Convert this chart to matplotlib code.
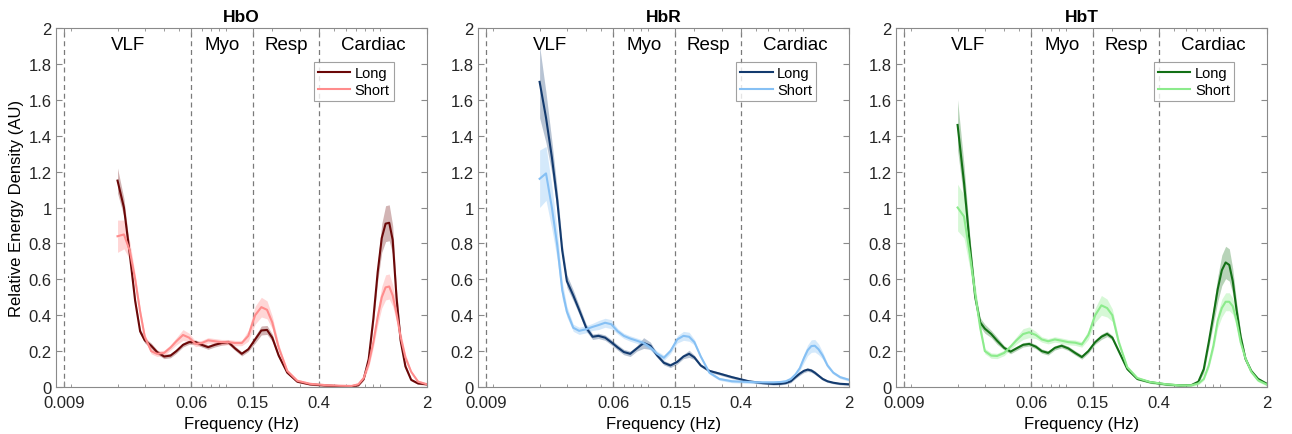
import numpy as np
import matplotlib.pyplot as plt
from matplotlib.ticker import FixedLocator, LogLocator, NullFormatter

plt.rcParams['font.family'] = ['Liberation Sans', 'DejaVu Sans']

# frequency grid (Hz) the curves were read at
freq = [0.020, 0.022, 0.024, 0.026, 0.028, 0.030, 0.033, 0.036, 0.040, 0.044,
        0.048, 0.053, 0.058, 0.064, 0.070, 0.077, 0.085, 0.094, 0.104, 0.115,
        0.127, 0.14, 0.155, 0.17, 0.185, 0.20, 0.22, 0.25, 0.29, 0.35,
        0.45, 0.55, 0.65, 0.72, 0.78, 0.84, 0.90, 0.96, 1.02, 1.08,
        1.14, 1.20, 1.27, 1.35, 1.45, 1.58, 1.75, 2.0]

# HbO
hbo_long = [1.15, 1.00, 0.74, 0.48, 0.31, 0.26, 0.23, 0.195, 0.17, 0.175,
            0.20, 0.235, 0.25, 0.25, 0.235, 0.222, 0.235, 0.245, 0.25, 0.215,
            0.185, 0.21, 0.265, 0.315, 0.318, 0.275, 0.175, 0.08, 0.03, 0.015,
            0.008, 0.005, 0.004, 0.01, 0.045, 0.156, 0.38, 0.64, 0.83, 0.91,
            0.915, 0.82, 0.50, 0.26, 0.115, 0.04, 0.02, 0.015]
hbo_long_err = [0.07, 0.05, 0.03, 0.02, 0.015, 0.015, 0.015, 0.012, 0.012, 0.012,
                0.012, 0.012, 0.012, 0.012, 0.012, 0.012, 0.012, 0.012, 0.012, 0.012,
                0.012, 0.012, 0.02, 0.025, 0.025, 0.02, 0.012, 0.006, 0.005, 0.005,
                0.005, 0.005, 0.005, 0.005, 0.008, 0.015, 0.03, 0.05, 0.08, 0.10,
                0.10, 0.08, 0.05, 0.03, 0.015, 0.006, 0.005, 0.005]
hbo_short = [0.84, 0.85, 0.76, 0.60, 0.42, 0.28, 0.20, 0.185, 0.19, 0.22,
             0.255, 0.29, 0.275, 0.24, 0.245, 0.26, 0.255, 0.25, 0.25, 0.245,
             0.245, 0.285, 0.40, 0.445, 0.43, 0.36, 0.22, 0.09, 0.035, 0.018,
             0.01, 0.007, 0.006, 0.015, 0.05, 0.13, 0.25, 0.39, 0.50, 0.555,
             0.56, 0.51, 0.41, 0.28, 0.165, 0.085, 0.03, 0.015]
hbo_short_err = [0.09, 0.08, 0.05, 0.03, 0.02, 0.015, 0.015, 0.015, 0.015, 0.015,
                 0.02, 0.03, 0.025, 0.015, 0.015, 0.015, 0.015, 0.015, 0.015, 0.015,
                 0.015, 0.03, 0.05, 0.055, 0.05, 0.035, 0.02, 0.008, 0.008, 0.008,
                 0.008, 0.008, 0.008, 0.008, 0.01, 0.02, 0.03, 0.045, 0.06, 0.07,
                 0.07, 0.06, 0.045, 0.03, 0.02, 0.008, 0.008, 0.008]

# HbR
hbr_long = [1.70, 1.50, 1.28, 1.04, 0.76, 0.59, 0.51, 0.43, 0.33, 0.28,
            0.285, 0.275, 0.25, 0.22, 0.195, 0.185, 0.215, 0.245, 0.23, 0.176,
            0.135, 0.12, 0.14, 0.17, 0.185, 0.165, 0.12, 0.09, 0.075, 0.055,
            0.032, 0.022, 0.017, 0.018, 0.022, 0.032, 0.055, 0.075, 0.09, 0.097,
            0.092, 0.08, 0.063, 0.045, 0.032, 0.024, 0.018, 0.015]
hbr_long_err = [0.20, 0.14, 0.09, 0.06, 0.04, 0.035, 0.03, 0.025, 0.02, 0.015,
                0.015, 0.015, 0.015, 0.015, 0.015, 0.015, 0.015, 0.03, 0.02, 0.012,
                0.012, 0.012, 0.012, 0.012, 0.02, 0.012, 0.008, 0.008, 0.008, 0.008,
                0.006, 0.006, 0.006, 0.006, 0.006, 0.008, 0.008, 0.01, 0.01, 0.01,
                0.01, 0.01, 0.008, 0.008, 0.006, 0.006, 0.006, 0.006]
hbr_short = [1.16, 1.19, 1.00, 0.79, 0.54, 0.42, 0.33, 0.313, 0.322, 0.335,
             0.345, 0.358, 0.35, 0.31, 0.285, 0.27, 0.258, 0.245, 0.22, 0.185,
             0.163, 0.20, 0.265, 0.285, 0.28, 0.25, 0.17, 0.08, 0.045, 0.032,
             0.028, 0.026, 0.026, 0.028, 0.032, 0.045, 0.07, 0.105, 0.16, 0.205,
             0.228, 0.23, 0.21, 0.175, 0.12, 0.08, 0.055, 0.04]
hbr_short_err = [0.16, 0.15, 0.12, 0.08, 0.05, 0.03, 0.02, 0.02, 0.02, 0.02,
                 0.025, 0.025, 0.025, 0.015, 0.015, 0.015, 0.015, 0.015, 0.015, 0.015,
                 0.015, 0.015, 0.02, 0.025, 0.025, 0.015, 0.008, 0.008, 0.008, 0.008,
                 0.008, 0.008, 0.008, 0.008, 0.008, 0.008, 0.008, 0.015, 0.025, 0.03,
                 0.035, 0.035, 0.03, 0.02, 0.012, 0.008, 0.008, 0.008]

# HbT
hbt_long = [1.46, 1.14, 0.79, 0.50, 0.36, 0.325, 0.295, 0.258, 0.218, 0.197,
            0.215, 0.235, 0.24, 0.225, 0.20, 0.19, 0.218, 0.23, 0.215, 0.19,
            0.167, 0.20, 0.25, 0.28, 0.296, 0.275, 0.20, 0.10, 0.045, 0.027,
            0.014, 0.009, 0.011, 0.03, 0.10, 0.25, 0.40, 0.546, 0.65, 0.694,
            0.68, 0.59, 0.43, 0.28, 0.157, 0.09, 0.045, 0.017]
hbt_long_err = [0.14, 0.10, 0.05, 0.03, 0.025, 0.025, 0.02, 0.02, 0.012, 0.012,
                0.012, 0.012, 0.012, 0.012, 0.012, 0.012, 0.012, 0.012, 0.012, 0.012,
                0.012, 0.012, 0.012, 0.015, 0.015, 0.012, 0.01, 0.008, 0.006, 0.006,
                0.005, 0.005, 0.005, 0.008, 0.02, 0.03, 0.05, 0.07, 0.085, 0.09,
                0.09, 0.07, 0.045, 0.025, 0.015, 0.008, 0.008, 0.008]
hbt_short = [1.00, 0.95, 0.74, 0.52, 0.33, 0.20, 0.175, 0.173, 0.19, 0.225,
             0.26, 0.295, 0.305, 0.29, 0.265, 0.255, 0.265, 0.258, 0.25, 0.247,
             0.237, 0.29, 0.40, 0.455, 0.44, 0.40, 0.25, 0.11, 0.05, 0.028,
             0.015, 0.009, 0.01, 0.02, 0.045, 0.12, 0.23, 0.37, 0.44, 0.475,
             0.475, 0.45, 0.37, 0.25, 0.16, 0.085, 0.037, 0.013]
hbt_short_err = [0.13, 0.12, 0.08, 0.05, 0.03, 0.015, 0.015, 0.015, 0.015, 0.015,
                 0.02, 0.03, 0.03, 0.02, 0.015, 0.015, 0.015, 0.015, 0.015, 0.015,
                 0.015, 0.025, 0.04, 0.055, 0.05, 0.035, 0.02, 0.008, 0.008, 0.008,
                 0.008, 0.008, 0.008, 0.008, 0.008, 0.015, 0.025, 0.04, 0.05, 0.05,
                 0.05, 0.045, 0.035, 0.02, 0.012, 0.008, 0.008, 0.008]

titles = ["HbO", "HbR", "HbT"]
long_colors = ["#6b0808", "#133a6e", "#137016"]
short_colors = ["#ff8c8c", "#86c0f4", "#8ceb8c"]

band_names = ["VLF", "Myo", "Resp", "Cardiac"]
band_lo = [0.009, 0.06, 0.15, 0.4]
band_hi = [0.06, 0.15, 0.4, 2]

xticks = [0.009, 0.06, 0.15, 0.4, 2]
xticklabels = ["0.009", "0.06", "0.15", "0.4", "2"]
yticks = [0, 0.2, 0.4, 0.6, 0.8, 1, 1.2, 1.4, 1.6, 1.8, 2]
yticklabels = ["0", "0.2", "0.4", "0.6", "0.8", "1", "1.2", "1.4", "1.6", "1.8", "2"]

series = [
    (hbo_long, hbo_long_err, hbo_short, hbo_short_err),
    (hbr_long, hbr_long_err, hbr_short, hbr_short_err),
    (hbt_long, hbt_long_err, hbt_short, hbt_short_err),
]

fig = plt.figure(figsize=(12.92, 4.35), dpi=100)
lefts = [0.0433, 0.370, 0.6935]
grey = "#8a8a8a"
f = np.array(freq)

for i, left in enumerate(lefts):
    ax = fig.add_axes([left, 0.108, 0.2872, 0.8253])
    lm, le, sm, se = [np.array(s) for s in series[i]]

    ax.fill_between(f, lm - le, lm + le, color=long_colors[i], alpha=0.3, lw=0)
    ax.fill_between(f, sm - se, sm + se, color=short_colors[i], alpha=0.35, lw=0)
    ax.plot(f, lm, color=long_colors[i], lw=1.5, label="Long")
    ax.plot(f, sm, color=short_colors[i], lw=1.5, label="Short")

    for lo in band_lo:
        ax.axvline(lo, color="#7a7a7a", ls=(0, (4, 3)), lw=0.9, zorder=0)
    for name, lo, hi in zip(band_names, band_lo, band_hi):
        ax.text(np.sqrt(lo * hi), 1.91, name, ha="center", va="center", fontsize=13.5)

    ax.set_xscale("log")
    ax.set_xlim(0.008, 2)
    ax.set_ylim(0, 2)
    ax.xaxis.set_major_locator(FixedLocator(xticks))
    ax.set_xticklabels(xticklabels)
    ax.xaxis.set_minor_locator(LogLocator(base=10, subs=np.arange(1, 10)))
    ax.xaxis.set_minor_formatter(NullFormatter())
    ax.set_yticks(yticks)
    ax.set_yticklabels(yticklabels)
    ax.tick_params(which="both", direction="in", top=True, right=True,
                   color=grey, labelsize=12, labelcolor="#262626")
    ax.tick_params(which="major", length=4)
    ax.tick_params(which="minor", length=2.5)
    ax.tick_params(axis="x", which="major", pad=6)
    ax.tick_params(axis="y", which="major", pad=3)
    for sp in ax.spines.values():
        sp.set_color(grey)
        sp.set_linewidth(0.8)

    ax.set_title(titles[i], fontsize=12.5, fontweight="bold", pad=5)
    ax.set_xlabel("Frequency (Hz)", fontsize=12, labelpad=4)
    if i == 0:
        ax.set_ylabel("Relative Energy Density (AU)", fontsize=12, labelpad=3)

    leg = ax.legend(loc="upper right", bbox_to_anchor=(0.9115, 0.905), borderaxespad=0,
                    fontsize=10.5, fancybox=False, handlelength=2.2, handletextpad=0.3,
                    borderpad=0.3, labelspacing=0.15)
    leg.get_frame().set_edgecolor(grey)
    leg.get_frame().set_linewidth(0.8)

fig.savefig("out.png", dpi=100)
